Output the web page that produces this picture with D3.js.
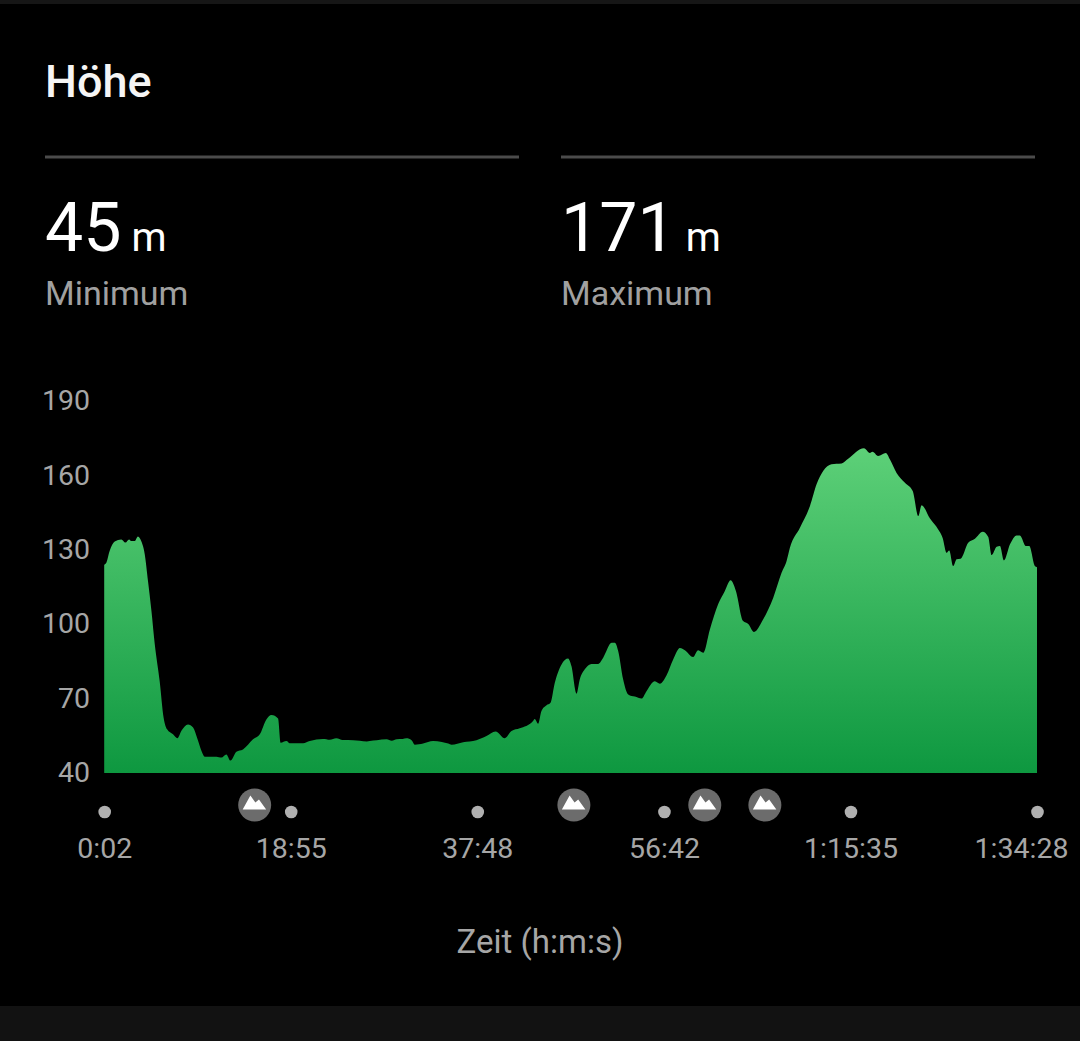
<!DOCTYPE html>
<html>

<head>
	<meta charset="utf-8">
	<script src="https://cdnjs.cloudflare.com/ajax/libs/d3/7.8.5/d3.min.js"></script>
	<style>
		html, body {
			margin: 0;
			padding: 0;
			background: #000;
		}

		svg {
			display: block;
			font-family: Roboto, sans-serif;
		}

		.tick text {
			fill: #a6a6a6;
			font-family: Roboto, sans-serif;
		}
	</style>
</head>

<body>
	<svg></svg>
	<script>
		// elapsed time in seconds and elevation in metres
		var seconds = [2, 15, 35, 66, 106, 131, 153, 167, 187, 207, 228, 248, 268, 289, 309, 339, 363, 384, 420, 447,
			471, 511, 542, 566, 593, 613, 684, 714, 744, 769, 805, 845, 906, 947, 987, 1018, 1058, 1074, 1109, 1129,
			1210, 1251, 1331, 1372, 1412, 1450, 1514, 1554, 1597, 1615, 1658, 1717, 1749, 1779, 1815, 1838, 1869, 1889, 1939, 2000, 2053, 2091, 2112, 2182, 2263, 2324, 2379, 2435,
			2476, 2526, 2607, 2617, 2638, 2658, 2689, 2713, 2739, 2780, 2820, 2840, 2871, 2891, 2921, 2962, 3002, 3033, 3084, 3104,
			3124, 3154, 3185, 3225, 3266, 3296, 3347, 3377, 3418, 3458, 3499, 3529, 3579, 3610, 3640, 3681, 3731, 3772, 3807, 3839,
			3883, 3914, 3949, 4005, 4066, 4117, 4147, 4167, 4228, 4289, 4329, 4369, 4420, 4481, 4521, 4617, 4653, 4669, 4703, 4750,
			4775, 4815, 4866, 4913, 4947, 4967, 5018, 5068, 5095, 5119, 5135, 5159, 5180, 5204, 5250, 5291, 5338, 5372, 5393, 5423,
			5443, 5467, 5504, 5544, 5564, 5601, 5621, 5655, 5668];
		var elevation = [124, 124.8, 129.5, 133.3, 134.2, 132.9, 134.2, 133.5, 133.5, 135.4, 133.3, 128.3, 117.4, 105.3, 92, 77, 62.3, 57.6, 55.6, 54,
			57, 59.6, 58.3, 54.2, 48.9, 46.6, 46.6, 46.2, 47.5, 45, 48.6, 49.5, 53.6, 55.6, 61.6, 63.4, 62, 52.2, 52.9, 52,
			52, 52.9, 53.7, 53.4, 54, 53.3, 53.2, 53, 52.7, 52.9, 53.2, 53.6, 53, 53.6, 53.7, 54, 53.2, 51.4, 51.9, 52.9, 52.5, 51.9, 51.4, 52.4, 53.2, 54.9, 56.7, 54,
			56.9, 58, 61, 61.8, 59.9, 65, 67.3, 68.3, 76.4, 83.8, 86.2, 83.1, 72, 77.8, 81.8, 84, 84, 86.5, 92.5, 92.5,
			89.2, 77.8, 71.7, 70.8, 70, 73, 77, 76, 79.4, 85.8, 90.4, 89.5, 86.8, 89.5, 88.5, 97.9, 108, 113.4, 117.7, 113.4,
			101.3, 100.1, 96.9, 102, 110.7, 120.8, 125.5, 130.8, 138.9, 147.7, 156.4, 161.8, 164.5, 164.8, 166.7, 170.9, 169, 169.5, 167.8, 169,
			166.4, 161, 157, 153.7, 143.6, 148, 142.6, 138.2, 134.8, 128.8, 129.7, 123.5, 126.2, 126.4, 132.8, 134.5, 137.3, 135.2, 127.9, 131.2,
			131.5, 125.7, 132.2, 135.8, 135.8, 131.5, 131.5, 123.5, 123];

		var yTicks = [40, 70, 100, 130, 160, 190];
		var xTicks = [2, 1135, 2268, 3402, 4535, 5668];
		var xTickLabels = ["0:02", "18:55", "37:48", "56:42", "1:15:35", "1:34:28"];
		var summits = [916, 2855, 3650, 4015];

		var stats = [
			{ value: "45", label: "Minimum", left: 45 },
			{ value: "171", label: "Maximum", left: 561 }
		];

		var width = 1080;
		var height = 1041;
		var margins = { left: 104.2, right: 43, top: 401, bottom: 268 };

		var svg = d3.select("svg")
			.attr("width", width)
			.attr("height", height);

		svg.append("rect")
			.attr("width", width)
			.attr("height", 4)
			.attr("fill", "#161616");
		svg.append("rect")
			.attr("y", 1006)
			.attr("width", width)
			.attr("height", 35)
			.attr("fill", "#121212");

		svg.append("text")
			.attr("x", 45)
			.attr("y", 97)
			.attr("fill", "#f5f5f5")
			.attr("font-size", 45)
			.attr("font-weight", 500)
			.text("Höhe");

		var stat = svg.selectAll(".stat")
			.data(stats)
			.enter()
			.append("g")
			.attr("class", "stat")
			.attr("transform", d => "translate(" + d.left + ",0)");

		stat.append("rect")
			.attr("y", 155.5)
			.attr("width", 474)
			.attr("height", 3)
			.attr("fill", "#4b4b4b");

		var big = stat.append("text")
			.attr("y", 251)
			.attr("fill", "#fff");
		big.append("tspan")
			.attr("font-size", 68)
			.text(d => d.value);
		big.append("tspan")
			.attr("font-size", 40)
			.attr("dx", 10)
			.text("m");

		stat.append("text")
			.attr("y", 305)
			.attr("fill", "#a0a0a0")
			.attr("font-size", 34)
			.text(d => d.label);

		var xScale = d3.scaleLinear()
			.domain([2, 5668])
			.range([margins.left, width - margins.right]);
		var yScale = d3.scaleLinear()
			.domain([40, 190])
			.range([height - margins.bottom, margins.top]);

		var gradient = svg.append("defs")
			.append("linearGradient")
			.attr("id", "fade")
			.attr("gradientUnits", "userSpaceOnUse")
			.attr("x1", 0)
			.attr("x2", 0)
			.attr("y1", yScale(171))
			.attr("y2", yScale(40));
		gradient.append("stop").attr("offset", 0).attr("stop-color", "#5dd078");
		gradient.append("stop").attr("offset", 1).attr("stop-color", "#0e9840");

		var area = d3.area()
			.curve(d3.curveMonotoneX)
			.x((d, i) => xScale(seconds[i]))
			.y0(yScale(40))
			.y1(d => yScale(d));

		svg.append("path")
			.attr("d", area(elevation))
			.attr("fill", "url(#fade)");

		var yAxis = svg.append("g")
			.attr("transform", "translate(90,-0.5)")
			.call(d3.axisLeft(yScale).tickValues(yTicks).tickSize(0).tickPadding(0));
		yAxis.select(".domain").remove();
		yAxis.selectAll("text").attr("font-size", 28.5);

		var xAxis = svg.append("g")
			.attr("transform", "translate(0,812)")
			.call(d3.axisBottom(xScale)
				.tickValues(xTicks)
				.tickSize(0)
				.tickPadding(26)
				.tickFormat((d, i) => xTickLabels[i]));
		xAxis.select(".domain").remove();
		xAxis.selectAll("text").attr("font-size", 28.5);
		xAxis.selectAll(".tick").append("circle")
			.attr("r", 6.3)
			.attr("fill", "#b0b0b0");
		// last label is pushed back so it stays on screen
		xAxis.selectAll(".tick text")
			.filter((d, i) => i == xTicks.length - 1)
			.attr("x", -16);

		svg.append("text")
			.attr("x", 540)
			.attr("y", 953)
			.attr("text-anchor", "middle")
			.attr("fill", "#a6a6a6")
			.attr("font-size", 33)
			.text("Zeit (h:m:s)");

		var summit = svg.selectAll(".summit")
			.data(summits)
			.enter()
			.append("g")
			.attr("class", "summit")
			.attr("transform", d => "translate(" + xScale(d) + ",805)");
		summit.append("circle")
			.attr("r", 16.5)
			.attr("fill", "#6c6c6c");
		summit.append("path")
			.attr("d", "M-12,4.5 L-4.3,-9.5 L0.7,-2.5 L4.3,-5.5 L11.5,4.5 Z")
			.attr("fill", "#fff");
	</script>
</body>

</html>
